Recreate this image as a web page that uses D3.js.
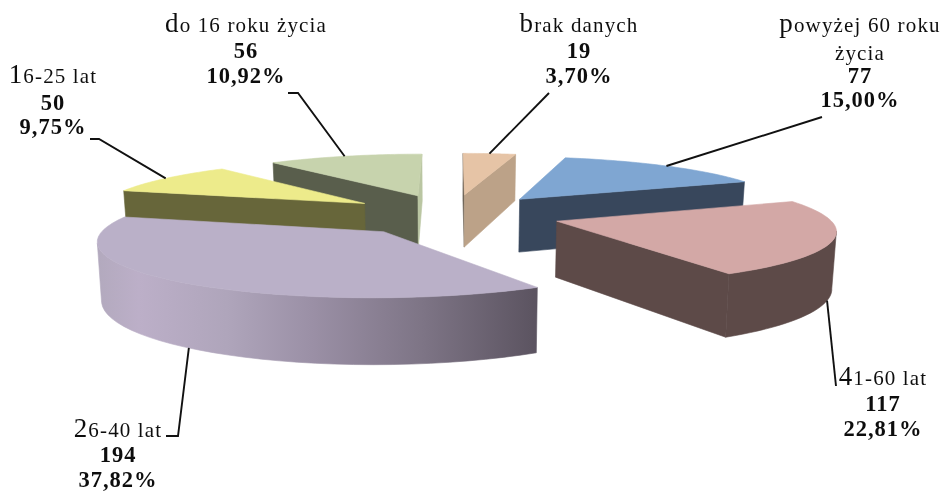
<!DOCTYPE html>
<html><head><meta charset="utf-8">
<script src="https://cdn.jsdelivr.net/npm/d3@7"></script>
<style>html,body{margin:0;padding:0;background:#fff}svg{display:block}
text{font-family:"Liberation Serif","Times New Roman",serif;fill:#111}</style></head>
<body><div id="chart"></div>
<script>
// Data, clockwise from twelve o'clock
const categories = ["brak danych","powyżej 60 roku życia","41-60 lat","26-40 lat","16-25 lat","do 16 roku życia"];
const counts = [19,77,117,194,50,56];
const percents = ["3,70%","15,00%","22,81%","37,82%","9,75%","10,92%"];

// Style
const topColors  = ["#e6c4a6","#7fa6d2","#d3a8a6","#bab0c8","#edeb8b","#c7d3ad"];
const wallColors = ["#bca288","#38475c","#5d4a48","url(#purpleWall)","#67663a","#595e4c"];
const endWallOverride = {5:"#bac6a2"};
const startWallOverride = {0:"#6b6256"};
const paintOrder = [0,5,1,4,2,3];

// Projection of the tilted disc
const W=947,H=491, cx=452.5, cy=214.5, ax=270, by=52, k=0.135, depth=55, shrink=0.988, explode=0.4;
function project(u,v,low){
  const w=1-k*v;
  const s=low?shrink:1;
  return [cx+s*ax*u/w, cy+by*v/w+(low?depth/w:0)];
}
const pie=d3.pie().sort(null).value(d=>d);
const arcs=pie(counts);
const pt=(a,mid,r,low)=>project(r*Math.sin(a)+explode*Math.sin(mid),-r*Math.cos(a)+explode*-Math.cos(mid),low);
const line=d3.line();

const svg=d3.select("#chart").append("svg").attr("width",W).attr("height",H);
svg.append("rect").attr("width",W).attr("height",H).attr("fill","#fff");
const defs=svg.append("defs");
const grad=defs.append("linearGradient").attr("id","purpleWall")
  .attr("gradientUnits","userSpaceOnUse").attr("x1",95).attr("x2",534).attr("y1",0).attr("y2",0);
[[0,"#b2a9bd"],[.1,"#bcafc8"],[.3,"#afa5bb"],[.5,"#9a8fa5"],[.75,"#7d7485"],[1,"#5c5461"]]
  .forEach(s=>grad.append("stop").attr("offset",s[0]).attr("stop-color",s[1]));
defs.append("filter").attr("id","soft").append("feGaussianBlur").attr("stdDeviation",.3);

const draw=(pts,fill)=>svg.append("path").attr("d",line(pts)+"Z").attr("fill",fill).attr("stroke",fill).attr("stroke-width",.6);

paintOrder.forEach(i=>{
  const d=arcs[i], mid=(d.startAngle+d.endAngle)/2;
  const angles=d3.range(0,41).map(t=>d.startAngle+(d.endAngle-d.startAngle)*t/40);
  const topArc=angles.map(a=>pt(a,mid,1,false));
  const lowArc=angles.map(a=>pt(a,mid,1,true));
  const apexT=pt(0,mid,0,false), apexL=pt(0,mid,0,true);
  const wallFill=wallColors[i];
  // start radial wall
  if(topArc[0][0]<apexT[0]) draw([apexT,topArc[0],lowArc[0],apexL],startWallOverride[i]||wallFill);
  // end radial wall
  if(apexT[0]<topArc[40][0]) draw([topArc[40],apexT,apexL,lowArc[40]],endWallOverride[i]||wallFill);
  // outer wall: only the part that faces the viewer
  const vis=d3.range(0,40).filter(j=>topArc[j+1][0]<topArc[j][0]);
  if(vis.length){
    const a=vis[0], b=vis[vis.length-1]+1;
    draw(topArc.slice(a,b+1).concat(lowArc.slice(a,b+1).reverse()),wallFill);
  }
  draw([apexT].concat(topArc),topColors[i]);
});

// Leader lines: start on each slice's rim, then run to the label
const leaderElbows=[[[549,93]],[[822,117]],[[836,386]],[[178,436],[166,436]],[[99,139],[90,139]],[[298,93],[288,93]]];
const leaderOnLowerRim=[false,false,true,true,false,false];
const leaderAngleShift=[0,0,0.05,-0.018,0,0];
arcs.forEach((d,i)=>{
  const mid=(d.startAngle+d.endAngle)/2;
  svg.append("path").attr("d",line([pt(mid+leaderAngleShift[i],mid,1,leaderOnLowerRim[i])].concat(leaderElbows[i])))
    .attr("fill","none").attr("stroke","#111").attr("stroke-width",1.9);
});

// Labels
const labelSlots=[
 {x:579,ys:[32,58,83],name:[categories[0]]},
 {x:860,ys:[32,60,83,107],name:["powyżej 60 roku","życia"]},
 {x:883,ys:[385,411,436],name:[categories[2]]},
 {x:118,ys:[437,462,487],name:[categories[3]]},
 {x:53,ys:[83,110,134],name:[categories[4]]},
 {x:246,ys:[32,58,83],name:[categories[5]]}
];
const labels=svg.append("g").attr("filter","url(#soft)");
labelSlots.forEach((s,i)=>{
  s.name.forEach((n,j)=>{
    const t=labels.append("text").attr("x",s.x).attr("y",s.ys[j]).attr("text-anchor","middle")
      .attr("font-size",21).attr("letter-spacing",1.15);
    if(j===0){
      t.append("tspan").attr("font-size",27).text(n[0]);
      t.append("tspan").text(n.slice(1));
    } else t.text(n);
  });
  const n=s.name.length;
  [String(counts[i]),percents[i]].forEach((v,j)=>{
    labels.append("text").attr("x",s.x).attr("y",s.ys[n+j]).attr("text-anchor","middle")
      .attr("font-size",22.5).attr("font-weight","bold").attr("letter-spacing",1).text(v);
  });
});
</script></body></html>
